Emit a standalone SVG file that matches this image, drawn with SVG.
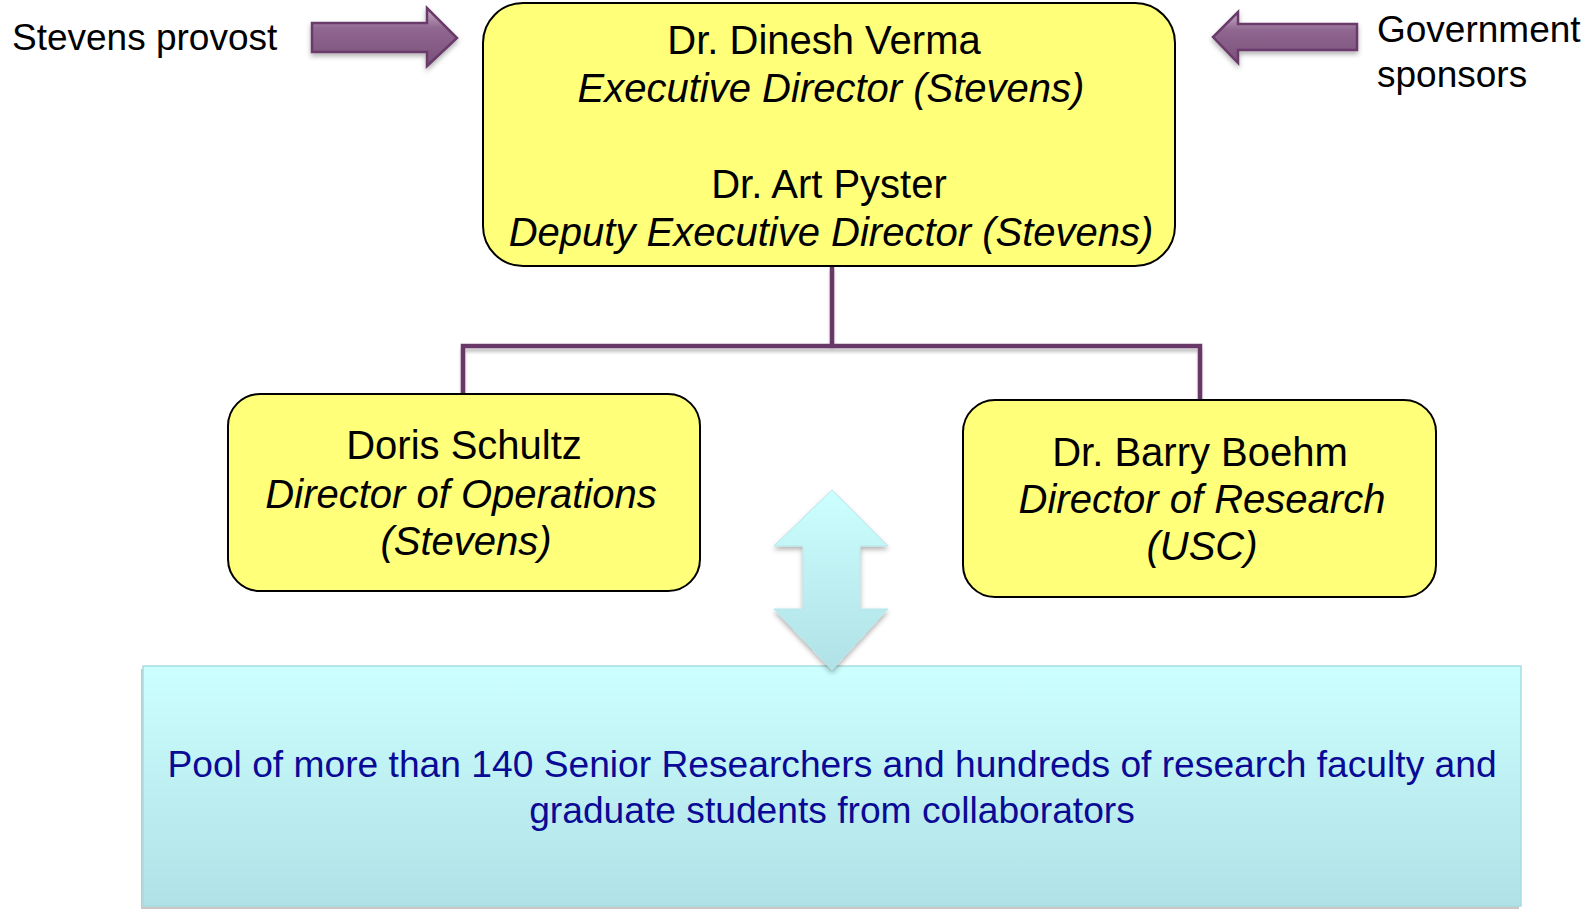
<svg xmlns="http://www.w3.org/2000/svg" width="1593" height="910" viewBox="0 0 1593 910">
  <defs>
    <linearGradient id="gPurple" x1="0" y1="0" x2="0" y2="1">
      <stop offset="0" stop-color="#C8AFC8"/>
      <stop offset="0.35" stop-color="#8F6790"/>
      <stop offset="1" stop-color="#7A5079"/>
    </linearGradient>
    <linearGradient id="gCyan" x1="0" y1="0" x2="0" y2="1">
      <stop offset="0" stop-color="#CCFFFF"/>
      <stop offset="1" stop-color="#B0E1E6"/>
    </linearGradient>
    <filter id="shadow" x="-10%" y="-10%" width="130%" height="140%">
      <feDropShadow dx="0" dy="3" stdDeviation="2.5" flood-color="#000" flood-opacity="0.3"/>
    </filter>
    <filter id="lineShadow" x="-5%" y="-50%" width="110%" height="300%">
      <feDropShadow dx="0" dy="4" stdDeviation="1.5" flood-color="#000" flood-opacity="0.22"/>
    </filter>
  </defs>
  <style>
    .box { fill: #FFFF7A; stroke: #000; stroke-width: 2; }
    .t { font-family: "Liberation Sans", Arial, sans-serif; font-size: 40px; fill: #000; text-anchor: middle; }
    .i { font-style: italic; }
    .lbl { font-family: "Liberation Sans", Arial, sans-serif; font-size: 37px; fill: #000; }
    .pool { font-family: "Liberation Sans", Arial, sans-serif; font-size: 37.2px; fill: #0A0A96; text-anchor: middle; }
    .conn { fill: none; stroke: #673867; stroke-width: 4.5; }
    .parrow { fill: url(#gPurple); stroke: #6B3A6B; stroke-width: 2.5; stroke-linejoin: miter; }
  </style>

  <rect width="1593" height="910" fill="#FFFFFF"/>

  <!-- org chart connectors -->
  <g id="connectors" filter="url(#lineShadow)">
    <path class="conn" d="M832 266 V346"/>
    <path class="conn" d="M463 394 V346 H1200 V400"/>
  </g>

  <!-- input arrows -->
  <g id="arrow-provost" filter="url(#shadow)">
    <path class="parrow" d="M312 23 H427 V8 L457 38 L427 66 V52 H312 Z"/>
  </g>
  <g id="arrow-sponsors" filter="url(#shadow)">
    <path class="parrow" d="M1357 24 H1238 V12 L1213 37 L1238 63 V50 H1357 Z"/>
  </g>

  <g id="label-provost">
    <text class="lbl" x="12" y="50">Stevens provost</text>
  </g>
  <g id="label-sponsors">
    <text class="lbl" x="1377" y="42">Government</text>
    <text class="lbl" x="1377" y="87">sponsors</text>
  </g>

  <!-- executive directors -->
  <g id="node-executive">
    <rect class="box" x="483" y="3" width="692" height="263" rx="40" ry="40"/>
    <text class="t" x="824" y="54">Dr. Dinesh Verma</text>
    <text class="t i" x="831" y="102">Executive Director (Stevens)</text>
    <text class="t" x="829" y="198">Dr. Art Pyster</text>
    <text class="t i" x="831" y="246">Deputy Executive Director (Stevens)</text>
  </g>

  <!-- operations -->
  <g id="node-operations">
    <rect class="box" x="228" y="394" width="472" height="197" rx="32" ry="32"/>
    <text class="t" x="464" y="459">Doris Schultz</text>
    <text class="t i" x="461" y="508">Director of Operations</text>
    <text class="t i" x="466" y="555">(Stevens)</text>
  </g>

  <!-- research -->
  <g id="node-research">
    <rect class="box" x="963" y="400" width="473" height="197" rx="32" ry="32"/>
    <text class="t" x="1200" y="466">Dr. Barry Boehm</text>
    <text class="t i" x="1202" y="513">Director of Research</text>
    <text class="t i" x="1202" y="560">(USC)</text>
  </g>

  <!-- researcher pool -->
  <g id="node-pool">
    <rect x="141" y="669" width="1378" height="240" fill="#C8C8C8"/>
    <rect x="143" y="666" width="1378" height="240" fill="url(#gCyan)" stroke="#A8DCE0" stroke-width="1.5"/>
    <text class="pool" x="832" y="777">Pool of more than 140 Senior Researchers and hundreds of research faculty and</text>
    <text class="pool" x="832" y="823">graduate students from collaborators</text>
  </g>

  <!-- two-way link between leadership and pool -->
  <g id="arrow-exchange" filter="url(#shadow)">
    <path d="M832 490 L888 546 H860 V609 H888 L832 670 L774 609 H803 V546 H774 Z" fill="url(#gCyan)" stroke="#B8E6EA" stroke-width="1"/>
  </g>
</svg>
